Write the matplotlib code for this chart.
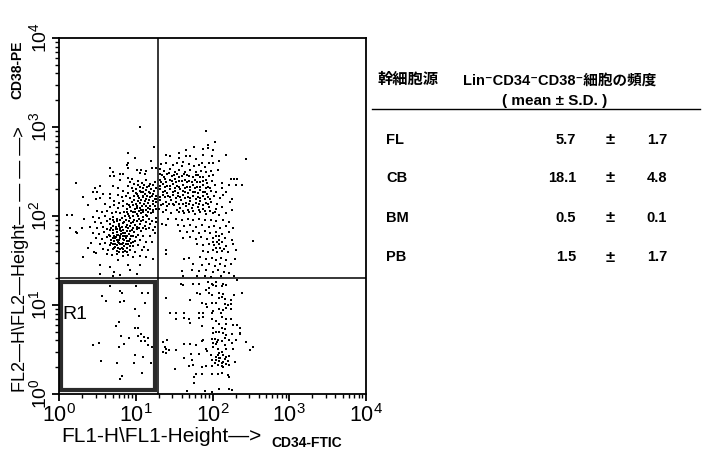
#!/usr/bin/env python3
# -*- coding: utf-8 -*-

import numpy as np
import matplotlib
matplotlib.use('Agg')
import matplotlib.pyplot as plt
from matplotlib.patches import Rectangle
from matplotlib.ticker import LogLocator, NullFormatter

# events, as (log10 FL1, log10 FL2)
r1_log = [
    (0.66,1.21),(0.79,1.16),(0.82,1.13),(1.00,1.21),(1.08,1.13),(1.16,1.13),(0.56,1.10),(0.61,1.04),
    (0.79,1.03),(0.85,1.04),(1.12,1.02),(0.99,0.96),(1.04,0.88),(0.78,0.81),(0.74,0.76),(0.99,0.74),
    (1.03,0.74),(0.81,0.65),(0.91,0.63),(1.03,0.65),(1.07,0.67),(1.11,0.64),(1.16,0.63),(1.07,0.60),
    (1.12,0.60),(1.16,0.55),(1.21,0.53),(0.85,0.56),(0.78,0.53),(0.52,0.57),(0.44,0.55),(0.99,0.44),
    (1.09,0.42),(0.55,0.37),(0.76,0.35),(0.98,0.35),(1.20,0.35),(1.08,0.24),(0.82,0.20),(0.79,0.17),
]
lower_right_log = [
    (1.59,1.24),(1.62,1.22),(1.75,1.24),(1.83,1.24),(1.94,1.26),(1.99,1.24),(2.01,1.22),(2.05,1.26),
    (2.04,1.21),(2.14,1.24),(2.18,1.23),(2.12,1.21),(2.32,1.28),(1.96,1.19),(1.91,1.17),(1.80,1.13),
    (1.84,1.12),(1.96,1.13),(1.99,1.11),(2.09,1.13),(2.12,1.09),(2.08,1.08),(2.14,1.12),(2.28,1.11),
    (2.39,1.13),(1.40,1.08),(1.71,1.06),(1.86,1.02),(1.91,1.01),(1.93,0.98),(1.99,1.02),(2.05,1.02),
    (2.16,1.07),(2.24,1.06),(2.16,1.01),(2.20,1.00),(2.24,1.01),(2.17,0.97),(2.09,0.95),(2.14,0.94),
    (2.24,0.95),(2.11,0.91),(2.12,0.87),(2.01,0.93),(1.99,0.91),(1.44,0.91),(1.52,0.91),(1.63,0.91),
    (1.82,0.91),(1.88,0.91),(1.88,0.86),(1.82,0.85),(1.63,0.85),(1.70,0.84),(1.71,0.80),(1.52,0.84),
    (1.99,0.84),(2.05,0.82),(2.08,0.79),(2.18,0.84),(2.24,0.84),(2.18,0.79),(1.86,0.76),(2.01,0.74),
    (2.12,0.74),(2.16,0.73),(2.27,0.78),(2.32,0.77),(2.36,0.74),(2.36,0.69),(2.36,0.67),(2.01,0.68),
    (2.04,0.70),(2.09,0.70),(2.14,0.68),(2.18,0.66),(2.25,0.67),(1.99,0.62),(2.03,0.62),(2.07,0.61),
    (2.16,0.63),(2.22,0.61),(2.30,0.61),(2.12,0.59),(1.41,0.61),(1.36,0.58),(1.88,0.61),(1.86,0.59),
    (2.01,0.57),(2.05,0.56),(2.16,0.55),(2.25,0.57),(2.43,0.58),(1.38,0.53),(1.39,0.51),(1.43,0.49),
    (1.36,0.47),(1.40,0.46),(1.53,0.49),(1.63,0.56),(1.71,0.56),(1.79,0.55),(1.91,0.51),(1.93,0.48),
    (2.01,0.53),(2.07,0.51),(2.09,0.46),(2.18,0.51),(2.27,0.51),(2.53,0.53),(2.49,0.49),(1.98,0.44),
    (2.05,0.42),(2.09,0.41),(2.14,0.44),(2.18,0.42),(2.22,0.43),(1.82,0.45),(1.72,0.45),(1.63,0.41),
    (1.73,0.38),(1.99,0.38),(2.04,0.38),(2.09,0.37),(2.14,0.36),(2.20,0.37),(2.29,0.36),(1.69,0.32),
    (1.75,0.33),(1.51,0.28),(1.86,0.30),(1.91,0.32),(1.99,0.32),(2.12,0.31),(2.22,0.33),(2.12,0.24),
    (2.07,0.23),(1.99,0.22),(1.78,0.23),(1.86,0.23),(1.76,0.19),(2.20,0.21),(2.22,0.19),(1.76,0.12),
    (1.67,0.03),(1.90,0.03),(2.08,0.06),(1.99,0.02),(2.22,0.06),(2.26,0.05),(2.10,0.40),(2.12,0.35),
    (2.16,0.39),(2.03,0.35),(2.07,0.33),(2.17,0.34),(2.14,0.30),(2.12,0.47),(2.07,0.44),(2.06,0.58),
]
upper_left_log = [
    (1.05,3.00),(1.24,2.77),(0.90,2.71),(0.99,2.65),(0.90,2.60),(0.88,2.57),(1.20,2.62),(0.66,2.54),
    (0.90,2.54),(1.01,2.52),(1.07,2.52),(1.13,2.51),(1.21,2.54),(1.27,2.54),(0.70,2.49),(0.80,2.47),
    (0.83,2.47),(0.66,2.45),(0.72,2.45),(1.06,2.48),(1.12,2.47),(0.80,2.41),(0.90,2.43),(0.95,2.42),
    (0.22,2.37),(0.53,2.34),(0.47,2.32),(0.71,2.34),(0.90,2.34),(0.44,2.27),(0.50,2.27),(0.57,2.25),
    (0.67,2.25),(0.77,2.31),(0.77,2.24),(0.31,2.21),(0.48,2.19),(0.54,2.20),(0.66,2.20),
    (0.10,2.01),(0.17,2.01),(0.38,2.12),(0.32,1.97),(0.14,1.86),(0.22,1.82),(0.23,1.81),(0.30,1.86),
    (0.31,1.54),(0.38,1.64),(0.45,1.60),(0.48,1.58),(0.54,1.45),(0.66,1.43),(0.72,1.37),(0.90,1.45),
    (0.93,1.39),(1.02,1.35),(1.06,1.45),(0.77,1.51),(1.13,1.54),(1.22,1.52),(1.25,1.81),(1.21,1.71),
    (1.08,1.62),(0.53,1.35),(0.71,1.33),(0.79,1.34),
    # top of the left cloud, running into the gate line
    (0.92,2.38),(0.98,2.36),(1.03,2.39),(1.08,2.37),(1.14,2.40),(1.19,2.36),(1.25,2.38),(0.95,2.32),
    (1.00,2.30),(1.05,2.33),(1.10,2.31),(1.15,2.33),(1.20,2.30),(1.26,2.32),(0.84,2.28),(0.90,2.26),
    (0.96,2.28),(1.02,2.25),(1.07,2.27),(1.12,2.25),(1.17,2.27),(1.23,2.25),(0.82,2.21),(0.87,2.23),
    (0.93,2.20),(0.98,2.22),(1.04,2.20),(1.09,2.21),(1.14,2.19),(1.19,2.21),(1.25,2.19),(0.72,2.17),
    (0.78,2.15),(0.84,2.17),(0.89,2.14),(0.95,2.16),(1.00,2.14),(1.05,2.15),(1.11,2.13),(1.16,2.15),
    (1.22,2.13),(1.27,2.16),(0.60,2.13),(0.66,2.10),(0.72,2.12),(0.77,2.09),(0.83,2.11),(0.88,2.08),
    (0.93,2.10),(0.99,2.08),(1.05,2.09),(1.10,2.07),(1.16,2.09),(1.23,2.07),
    # main body of the left cloud
    (0.50,2.06),(0.56,2.04),(0.63,2.06),(0.69,2.03),(0.74,2.05),(0.80,2.03),(0.85,2.05),(0.90,2.02),
    (0.96,2.04),(1.01,2.02),(1.07,2.03),(1.13,2.01),(1.20,2.03),(0.44,1.99),(0.52,1.98),(0.60,2.00),
    (0.66,1.97),(0.71,1.99),(0.76,1.97),(0.82,1.98),(0.87,1.96),(0.93,1.98),(0.98,1.96),(1.04,1.97),
    (1.10,1.95),(1.17,1.97),(1.26,1.98),(0.47,1.93),(0.55,1.92),(0.62,1.94),(0.67,1.91),(0.72,1.93),
    (0.78,1.91),(0.83,1.92),(0.88,1.90),(0.94,1.92),(0.99,1.90),(1.05,1.91),(1.12,1.89),(1.19,1.91),
    (0.40,1.88),(0.49,1.87),(0.57,1.88),(0.63,1.85),(0.68,1.87),(0.74,1.85),(0.79,1.87),(0.84,1.84),
    (0.90,1.86),(0.95,1.84),(1.01,1.85),(1.07,1.83),(1.14,1.85),(1.22,1.84),(0.44,1.81),(0.52,1.80),
    (0.59,1.82),(0.65,1.79),(0.70,1.81),(0.75,1.79),(0.81,1.80),(0.86,1.78),(0.91,1.80),(0.97,1.78),
    (1.03,1.79),(1.10,1.77),(1.18,1.78),(0.48,1.75),(0.56,1.74),(0.62,1.76),(0.68,1.73),(0.73,1.75),
    (0.78,1.73),(0.83,1.74),(0.88,1.72),(0.93,1.74),(0.99,1.72),(1.06,1.73),(1.14,1.71),(0.42,1.70),
    (0.53,1.69),(0.60,1.70),(0.66,1.67),(0.71,1.69),(0.76,1.67),(0.80,1.69),(0.85,1.66),(0.90,1.68),
    (0.96,1.66),(1.03,1.67),(1.11,1.65),(0.57,1.63),(0.64,1.62),(0.70,1.63),(0.75,1.61),(0.80,1.63),
    (0.86,1.61),(0.92,1.62),(0.99,1.60),(1.16,1.62),(0.62,1.57),(0.69,1.56),(0.76,1.57),(0.83,1.55),
    (0.90,1.56),(0.97,1.54),(1.05,1.55),(0.74,1.76),(0.79,1.77),(0.84,1.70),(0.77,1.71),(0.82,1.64),
    (0.73,1.65),(0.87,1.75),(0.81,1.83),(0.76,1.82),(0.72,1.72),(0.94,1.70),(0.86,1.81),
]
# the black core of the left cloud
left_core_log = [
    (0.71,1.95),(0.75,1.94),(0.80,1.95),(0.85,1.93),(0.91,1.94),(0.96,1.93),(0.70,1.89),(0.74,1.88),
    (0.78,1.89),(0.82,1.88),(0.87,1.88),(0.92,1.89),(0.97,1.87),(1.02,1.88),(0.66,1.84),(0.71,1.84),
    (0.76,1.85),(0.80,1.84),(0.83,1.81),(0.88,1.83),(0.93,1.83),(0.98,1.82),(0.67,1.78),(0.72,1.78),
    (0.77,1.79),(0.83,1.77),(0.89,1.78),(0.94,1.77),(1.00,1.76),(0.70,1.75),(0.75,1.73),(0.80,1.75),
    (0.85,1.73),(0.91,1.72),(0.96,1.71),(0.68,1.70),(0.73,1.69),(0.78,1.70),(0.82,1.68),(0.87,1.69),
    (0.92,1.66),(0.72,1.64),(0.77,1.64),(0.84,1.63),(0.89,1.64),(0.78,1.60),(0.83,1.59),(0.88,1.59),
    # band joining it to the gate line above
    (0.86,2.00),(0.91,2.00),(0.97,2.00),(1.03,2.00),(1.09,1.99),(1.15,2.00),(0.88,2.05),(0.94,2.06),
    (0.99,2.05),(1.04,2.06),(1.10,2.05),(1.16,2.05),(1.22,2.05),(0.91,2.12),(0.96,2.12),(1.02,2.11),
    (1.08,2.11),(1.13,2.11),(1.19,2.11),(1.25,2.11),(0.98,2.18),(1.03,2.17),(1.07,2.18),(1.12,2.17),
    (1.17,2.18),(1.22,2.17),(1.27,2.19),(1.03,2.23),(1.10,2.23),(1.15,2.23),(1.21,2.23),(1.26,2.22),
    (1.00,2.26),(1.05,2.28),(1.10,2.27),(1.14,2.29),(1.19,2.26),(1.24,2.28),(1.03,2.35),(1.11,2.35),
    (1.17,2.34),(1.23,2.35),(1.01,2.09),(1.07,2.07),(1.13,2.07),(1.19,2.08),(1.26,2.08),(1.01,1.94),
    (1.07,1.94),(1.13,1.93),(1.21,1.94),(1.27,1.93),(1.04,1.87),(1.10,1.86),(1.17,1.87),(1.25,1.88),
]
upper_right_log = [
    (1.91,2.96),(2.03,2.83),(1.94,2.80),(1.76,2.77),(1.66,2.74),(1.88,2.75),(1.94,2.76),(2.00,2.74),
    (1.88,2.69),(2.18,2.69),(2.43,2.64),(1.39,2.69),(1.57,2.71),(1.44,2.67),(1.66,2.67),(1.71,2.67),
    (1.57,2.65),(1.99,2.67),(2.09,2.62),(1.79,2.64),(1.62,2.61),(1.86,2.60),(1.96,2.59),(2.01,2.59),
    (2.07,2.52),(2.01,2.46),(2.24,2.42),(2.28,2.42),(2.32,2.42),(2.22,2.35),(2.31,2.35),(2.38,2.35),
    (2.12,2.37),(2.12,2.31),(2.18,2.27),(2.25,2.19),(2.14,2.24),
    # top of the right cloud
    (1.33,2.58),(1.40,2.60),(1.48,2.57),(1.54,2.59),(1.60,2.56),(1.69,2.58),(1.76,2.56),(1.83,2.57),
    (1.90,2.55),(1.31,2.53),(1.37,2.51),(1.44,2.53),(1.51,2.50),(1.57,2.52),(1.64,2.50),(1.71,2.52),
    (1.78,2.50),(1.85,2.51),(1.92,2.49),(1.98,2.51),(1.34,2.46),(1.41,2.47),(1.47,2.45),(1.54,2.47),
    (1.60,2.45),(1.67,2.46),(1.74,2.44),(1.81,2.46),(1.88,2.44),(1.95,2.45),(1.31,2.41),(1.38,2.42),
    (1.44,2.40),(1.51,2.42),(1.57,2.39),(1.64,2.41),(1.70,2.39),(1.77,2.41),(1.84,2.38),(1.91,2.40),
    (1.99,2.39),(1.35,2.36),(1.41,2.34),(1.48,2.36),(1.54,2.34),(1.61,2.35),(1.67,2.33),(1.74,2.35),
    (1.80,2.33),(1.87,2.35),(1.94,2.33),(2.03,2.35),(1.32,2.30),(1.38,2.28),(1.45,2.30),(1.51,2.28),
    (1.58,2.30),(1.64,2.27),(1.71,2.29),(1.77,2.27),(1.84,2.29),(1.90,2.27),(1.98,2.28),(2.05,2.27),
    (1.35,2.24),(1.42,2.22),(1.48,2.24),(1.55,2.22),(1.61,2.24),(1.68,2.21),(1.74,2.23),(1.81,2.21),
    (1.87,2.23),(1.94,2.21),(2.02,2.22),(2.10,2.20),(1.31,2.18),(1.39,2.16),(1.46,2.18),(1.52,2.16),
    (1.59,2.18),(1.65,2.15),(1.71,2.17),(1.78,2.15),(1.84,2.17),(1.91,2.15),(1.98,2.16),(2.06,2.14),
    # lower arm, down to the horizontal gate
    (1.33,2.12),(1.41,2.11),(1.50,2.12),(1.58,2.09),(1.66,2.11),(1.73,2.09),(1.81,2.10),(1.88,2.08),
    (1.96,2.10),(2.04,2.08),(2.13,2.10),(2.23,2.16),(1.36,2.05),(1.46,2.03),(1.56,2.04),(1.63,2.03),
    (1.70,2.05),(1.77,2.02),(1.84,2.04),(1.92,2.02),(2.00,2.03),(2.08,2.01),(2.17,2.03),(2.26,2.07),
    (1.42,1.97),(1.52,1.97),(1.60,1.96),(1.68,1.97),(1.75,1.95),(1.83,1.97),(1.90,1.95),(1.98,1.96),
    (2.05,1.94),(2.14,1.96),(2.22,1.93),(1.34,1.91),(1.39,1.90),(1.55,1.90),(1.63,1.89),(1.71,1.90),
    (1.79,1.88),(1.86,1.90),(1.95,1.88),(2.02,1.89),(2.10,1.87),(2.18,1.89),(2.27,1.86),(1.58,1.83),
    (1.67,1.82),(1.75,1.83),(1.82,1.81),(1.90,1.83),(1.97,1.81),(2.05,1.82),(2.13,1.80),(2.21,1.82),
    (1.62,1.75),(1.71,1.76),(1.78,1.74),(1.85,1.76),(1.93,1.74),(2.00,1.75),(2.08,1.73),(2.16,1.75),
    (2.25,1.73),(1.80,1.68),(1.88,1.67),(1.95,1.69),(2.02,1.67),(2.09,1.68),(2.17,1.66),(2.27,1.68),
    (2.53,1.72),(1.40,1.62),(1.39,1.57),(1.87,1.61),(1.94,1.60),(2.00,1.62),(2.06,1.59),(2.12,1.61),
    (2.20,1.59),(2.31,1.62),(1.63,1.52),(1.70,1.53),(1.84,1.54),(1.92,1.52),(1.99,1.53),(2.05,1.51),
    (2.11,1.53),(2.18,1.51),(2.29,1.52),(1.75,1.46),(1.86,1.45),(1.96,1.46),(2.03,1.44),(2.10,1.46),
    (2.16,1.44),(2.24,1.46),(1.60,1.38),(1.73,1.39),(1.82,1.38),(1.92,1.39),(2.00,1.37),(2.07,1.39),
    (2.15,1.37),(2.21,1.36),(1.61,1.33),(1.80,1.33),(1.90,1.33),(1.98,1.32),(2.11,1.33),(2.28,1.33),
]
# the black core of the right cloud
right_core_log = [
    (1.31,2.47),(1.37,2.44),(1.43,2.48),(1.50,2.46),(1.56,2.44),(1.63,2.47),(1.70,2.45),(1.78,2.46),
    (1.84,2.44),(1.33,2.38),(1.40,2.38),(1.47,2.39),(1.53,2.38),(1.60,2.39),(1.67,2.38),(1.73,2.38),
    (1.80,2.38),(1.87,2.39),(1.93,2.37),(1.31,2.34),(1.38,2.33),(1.44,2.34),(1.51,2.32),(1.57,2.33),
    (1.64,2.32),(1.71,2.33),(1.77,2.32),(1.84,2.33),(1.91,2.32),(1.97,2.32),(1.35,2.27),(1.41,2.26),
    (1.48,2.27),(1.55,2.26),(1.61,2.28),(1.68,2.26),(1.74,2.27),(1.81,2.26),(1.87,2.27),(1.93,2.25),
    (1.32,2.21),(1.38,2.21),(1.45,2.21),(1.52,2.20),(1.58,2.21),(1.64,2.20),(1.71,2.20),(1.78,2.19),
    (1.84,2.20),(1.90,2.19),(1.97,2.19),(1.36,2.14),(1.43,2.14),(1.49,2.13),(1.56,2.13),(1.62,2.13),
    (1.69,2.13),(1.75,2.12),(1.82,2.13),(1.88,2.12),(1.94,2.13),(1.30,2.08),(1.39,2.07),(1.54,2.07),
    (1.61,2.06),(1.68,2.07),(1.75,2.06),(1.82,2.07),(1.90,2.06),(1.97,2.06),(2.03,2.05),
    (2.04,1.78),(2.09,1.78),(2.00,1.71),(2.06,1.71),(2.12,1.71),(2.05,1.64),(2.10,1.64),(2.15,1.63),
]

tick_vals   = [1, 10, 100, 1000, 10000]
tick_labels = ['$10^{0}$', '$10^{1}$', '$10^{2}$', '$10^{3}$', '$10^{4}$']
gate_x = 19.5
gate_y = 20.0
r1_box = [1.05, 17.8, 1.11, 18.0]   # x0, x1, y0, y1

sources  = ['FL', 'CB', 'BM', 'PB']
means    = ['5.7', '18.1', '0.5', '1.5']
devs     = ['1.7', '4.8', '0.1', '1.7']

SANS = ['Liberation Sans', 'DejaVu Sans']
BOLD = ['Liberation Sans', 'Noto Sans CJK JP', 'DejaVu Sans']

def main():
    plt.rcParams['mathtext.fontset'] = 'custom'
    plt.rcParams['mathtext.rm'] = 'Liberation Sans'
    plt.rcParams['mathtext.it'] = 'Liberation Sans'
    plt.rcParams['mathtext.default'] = 'rm'

    W, H = 726, 450
    fig = plt.figure(figsize=(W/100, H/100), dpi=100)
    ax  = fig.add_axes([59/W, 1-394/H, 307/W, 356/H])

    pts = np.array(r1_log + lower_right_log + upper_left_log + left_core_log
                   + upper_right_log + right_core_log)
    ax.scatter(10**pts[:,0], 10**pts[:,1], s=3.6, marker='s', c='black', linewidths=0)

    ax.set_xscale('log')
    ax.set_yscale('log')
    ax.set_xlim(1, 10000)
    ax.set_ylim(1, 10000)

    ax.axvline(gate_x, color='black', lw=1.1)
    ax.axhline(gate_y, color='black', lw=1.1)
    x0, x1, y0, y1 = r1_box
    ax.add_patch(Rectangle((x0, y0), x1-x0, y1-y0, fill=False, ec='#2a2a2a', lw=3.0))
    ax.text(1.12, 7.9, 'R1', family=SANS, fontsize=14, va='center', ha='left')

    for s in ax.spines.values():
        s.set_linewidth(1.3)

    ax.set_xticks(tick_vals)
    ax.set_yticks(tick_vals)
    ax.set_xticklabels(tick_labels, fontsize=15.5)
    ax.set_yticklabels(tick_labels, fontsize=14, rotation=90, va='center')
    ax.tick_params(which='major', length=5, width=1.3, pad=1.5)
    ax.tick_params(which='minor', length=3, width=1.0)
    ax.xaxis.set_minor_locator(LogLocator(base=10, subs=range(2, 10), numticks=10))
    ax.yaxis.set_minor_locator(LogLocator(base=10, subs=range(2, 10), numticks=10))
    ax.xaxis.set_minor_formatter(NullFormatter())
    ax.yaxis.set_minor_formatter(NullFormatter())

    def ftext(px, py, s, **kw):
        fig.text(px/W, 1-py/H, s, **kw)

    # axis titles
    ftext(61, 437, 'FL1-H\\FL1-Height—>', family=SANS, fontsize=15, va='center', ha='left')
    ftext(271, 443, 'CD34-FTIC', family=BOLD, fontsize=10, fontweight='bold', va='center', ha='left')
    ftext(21, 392, 'FL2—H\\FL2—Height— — — —>', family=SANS, fontsize=13, rotation=90,
          va='bottom', ha='center')
    ftext(17, 70, 'CD38-PE', family=BOLD, fontsize=10, fontweight='bold', rotation=90,
          va='center', ha='center')

    # frequency table
    ftext(377, 80, '幹細胞源', family=BOLD, fontsize=11, fontweight='bold', va='center', ha='left')
    ftext(463, 81, 'Lin⁻CD34⁻CD38⁻細胞の頻度', family=BOLD, fontsize=10.5, fontweight='bold',
          va='center', ha='left')
    ftext(555, 101, '( mean ± S.D. )', family=BOLD, fontsize=11, fontweight='bold',
          va='center', ha='center')
    fig.add_artist(plt.Line2D([372/W, 700/W], [1-109/H, 1-109/H], color='black', lw=1.0))

    row_y = [140, 178, 218, 257]
    for y, src, m, d in zip(row_y, sources, means, devs):
        ftext(386, y, src, family=BOLD, fontsize=10.5, fontweight='bold', va='center', ha='left')
        ftext(576, y, m, family=BOLD, fontsize=10.5, fontweight='bold', va='center', ha='right')
        ftext(610, y, '±', family=BOLD, fontsize=12, fontweight='bold', va='center', ha='center')
        ftext(667, y, d, family=BOLD, fontsize=10.5, fontweight='bold', va='center', ha='right')

    fig.savefig('out.png', dpi=100)

if __name__ == '__main__':
    main()
